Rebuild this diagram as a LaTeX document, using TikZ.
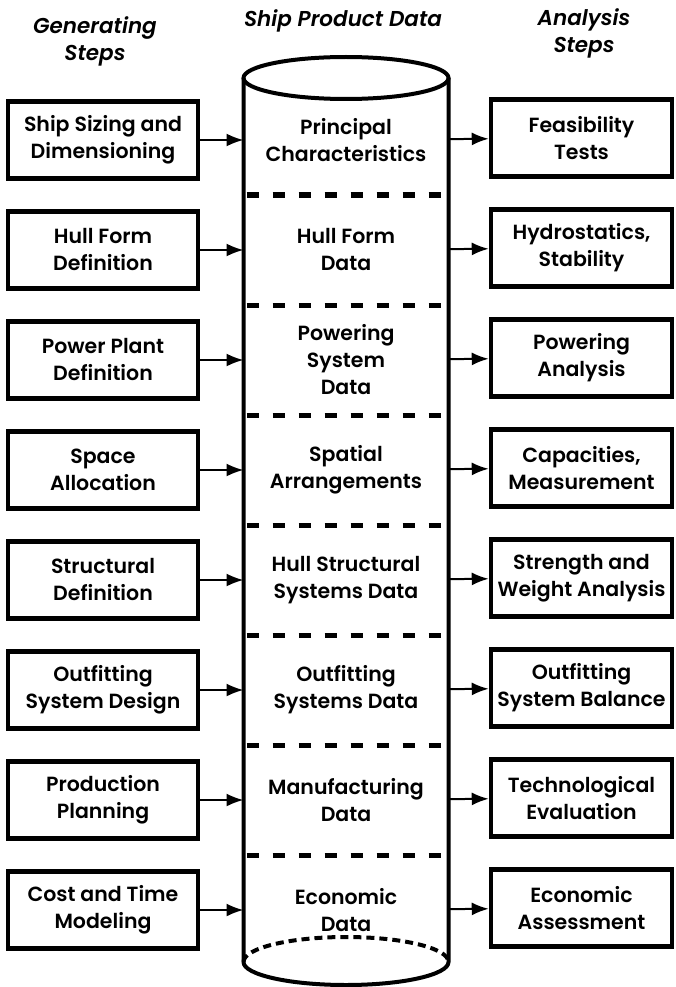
\documentclass[tikz,border=0pt]{standalone}
\usepackage{fontspec}
\setmainfont{Poppins}[UprightFont=* SemiBold,ItalicFont=* SemiBold Italic]
\usetikzlibrary{arrows.meta,positioning}
\tikzstyle{head}=[align=center,font=\fontsize{21.5}{27}\selectfont\itshape]
\tikzstyle{genbox}=[rectangle,draw,line width=4.5pt,minimum width=190pt,
minimum height=77pt,align=center,font=\fontsize{20.5}{27}\selectfont]
\tikzstyle{anabox}=[genbox,minimum width=181pt]
\tikzstyle{datatext}=[rectangle,minimum width=205pt,minimum height=110pt,
outer sep=0pt,align=center,font=\fontsize{20.5}{27}\selectfont]
\tikzstyle{wall}=[line width=4pt]
\tikzstyle{sep}=[line width=5pt,dash pattern=on 12pt off 14pt]

\begin{document}
\begin{tikzpicture}[x=1pt,y=1pt,node distance=110pt,>={Latex[length=17pt,width=13pt]}]
            \useasboundingbox (0,0) rectangle (675,-987);

            % HEADINGS

            \node[head] (hgen) at (95,-41) {Generating\\Steps};
            \node[head] (hdat) at (343,-21) {Ship Product Data};
            \node[head] (hana) at (584,-33) {Analysis\\Steps};

            % GENERATING STEPS

            \node[genbox] (g1) at (103,-140) {Ship Sizing and\\Dimensioning};
            \node[genbox, below of=g1] (g2) {Hull Form\\Definition};
            \node[genbox, below of=g2] (g3) {Power Plant\\Definition};
            \node[genbox, below of=g3] (g4) {Space\\Allocation};
            \node[genbox, below of=g4] (g5) {Structural\\Definition};
            \node[genbox, below of=g5] (g6) {Outfitting\\System Design};
            \node[genbox, below of=g6] (g7) {Production\\Planning};
            \node[genbox, below of=g7] (g8) {Cost and Time\\Modeling};

            % SHIP PRODUCT DATA

            \node[datatext] (d1) at (346,-140) {Principal\\Characteristics};
            \node[datatext, below of=d1] (d2) {Hull Form\\Data};
            \node[datatext, below of=d2] (d3) {Powering\\System\\Data};
            \node[datatext, below of=d3] (d4) {Spatial\\Arrangements};
            \node[datatext, below of=d4] (d5) {Hull Structural\\Systems Data};
            \node[datatext, below of=d5] (d6) {Outfitting\\Systems Data};
            \node[datatext, below of=d6] (d7) {Manufacturing\\Data};
            \node[datatext, below of=d7] (d8) {Economic\\Data};

            \coordinate (ctop) at (346,-78);
            \coordinate (cbot) at (346,-962);
            \draw[wall] (ctop) ellipse [x radius=102.5, y radius=21];
            \draw[wall] ([xshift=-102.5pt]ctop) -- ([xshift=-102.5pt]cbot)
                arc[start angle=180, end angle=360, x radius=102.5, y radius=23]
                -- ([xshift=102.5pt]ctop);
            \draw[line width=4pt, dash pattern=on 8pt off 5pt] ([xshift=-102.5pt]cbot)
                arc[start angle=180, end angle=0, x radius=102.5, y radius=25];

            \draw[sep] ([xshift=3pt]d1.south west) -- ([xshift=-3pt]d1.south east);
            \draw[sep] ([xshift=3pt]d2.south west) -- ([xshift=-3pt]d2.south east);
            \draw[sep] ([xshift=3pt]d3.south west) -- ([xshift=-3pt]d3.south east);
            \draw[sep] ([xshift=3pt]d4.south west) -- ([xshift=-3pt]d4.south east);
            \draw[sep] ([xshift=3pt]d5.south west) -- ([xshift=-3pt]d5.south east);
            \draw[sep] ([xshift=3pt]d6.south west) -- ([xshift=-3pt]d6.south east);
            \draw[sep] ([xshift=3pt]d7.south west) -- ([xshift=-3pt]d7.south east);

            % ANALYSIS STEPS

            \node[anabox] (a1) at (581.5,-138) {Feasibility\\Tests};
            \node[anabox, below of=a1] (a2) {Hydrostatics,\\Stability};
            \node[anabox, below of=a2] (a3) {Powering\\Analysis};
            \node[anabox, below of=a3] (a4) {Capacities,\\Measurement};
            \node[anabox, below of=a4] (a5) {Strength and\\Weight Analysis};
            \node[anabox, below of=a5] (a6) {Outfitting\\System Balance};
            \node[anabox, below of=a6] (a7) {Technological\\Evaluation};
            \node[anabox, below of=a7] (a8) {Economic\\Assessment};

            % CONNECTIONS

            \path[->,line width=2pt] (g1) edge (d1) (d1) edge (a1);
            \path[->,line width=2pt] (g2) edge (d2) (d2) edge (a2);
            \path[->,line width=2pt] (g3) edge (d3) (d3) edge (a3);
            \path[->,line width=2pt] (g4) edge (d4) (d4) edge (a4);
            \path[->,line width=2pt] (g5) edge (d5) (d5) edge (a5);
            \path[->,line width=2pt] (g6) edge (d6) (d6) edge (a6);
            \path[->,line width=2pt] (g7) edge (d7) (d7) edge (a7);
            \path[->,line width=2pt] (g8) edge (d8) (d8) edge (a8);

\end{tikzpicture}
\end{document}
